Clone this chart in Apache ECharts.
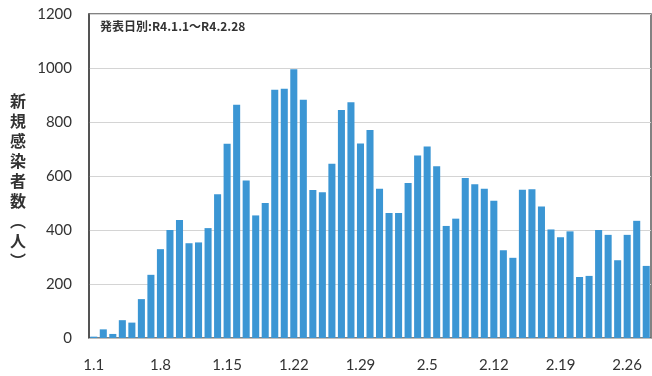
<!DOCTYPE html>
<html>
<head>
<meta charset="utf-8">
<script src="https://cdn.jsdelivr.net/npm/echarts@6/dist/echarts.min.js"></script>
<style>
  html, body { margin: 0; padding: 0; background: #fff; }
  #chart { width: 652px; height: 376px; }
</style>
</head>
<body>
<div id="chart"></div>
<script>
// Daily new infections by announcement date, R4.1.1 – R4.2.28
const janDays = Array.from({ length: 31 }, (_, i) => '1.' + (i + 1));
const febDays = Array.from({ length: 28 }, (_, i) => '2.' + (i + 1));
const dates = janDays.concat(febDays);

const newCases = [
  5, 32, 15, 66, 57, 144, 234, 329, 400, 437,
  351, 354, 407, 532, 719, 864, 583, 454, 500, 919,
  923, 995, 882, 548, 540, 645, 844, 873, 720, 770,
  553,
  463, 463, 574, 676, 709, 636, 415, 442, 593, 569,
  553, 508, 325, 297, 549, 551, 487, 402, 373, 395,
  226, 230, 400, 382, 288, 382, 434, 267
];

const yTicks = { min: 0, max: 1200, step: 200 };
const yTitle = ['新', '規', '感', '染', '者', '数', '︵', '人', '︶'];
const periodNote = '発表日別:R4.1.1〜R4.2.28';

const chart = echarts.init(document.getElementById('chart'));
chart.setOption({
  animation: false,
  backgroundColor: '#ffffff',
  grid: {
    left: 89, right: 1, top: 14, bottom: 38,
    show: true, borderColor: '#5a5a5a', borderWidth: 1.5
  },
  xAxis: {
    type: 'category',
    data: dates,
    axisLine: { show: true, lineStyle: { color: '#bdbdbd', width: 1 } },
    axisTick: { show: false },
    axisLabel: {
      interval: 6, margin: 20, color: '#333', fontSize: 15,
      fontFamily: 'Lato, "Noto Sans", sans-serif'
    }
  },
  yAxis: {
    type: 'value',
    min: yTicks.min, max: yTicks.max, interval: yTicks.step,
    axisLine: { show: true, lineStyle: { color: '#444', width: 1.5 } },
    axisTick: { show: false },
    splitLine: { show: true, lineStyle: { color: '#d4d4d4', width: 1 } },
    axisLabel: {
      margin: 17, color: '#333', fontSize: 15,
      fontFamily: 'Lato, "Noto Sans", sans-serif',
      formatter: v => String(v)
    }
  },
  series: [{
    type: 'bar',
    data: newCases,
    barCategoryGap: '26%',
    itemStyle: { color: '#3b96d4' }
  }],
  graphic: [
    {
      type: 'text', left: 100, top: 20,
      style: {
        text: periodNote, fill: '#333', fontSize: 12, fontWeight: 'bold',
        fontFamily: '"Noto Sans CJK JP", sans-serif'
      }
    },
    {
      type: 'text', left: 10, top: 91,
      style: {
        text: yTitle.join('\n'), fill: '#333', fontSize: 16, lineHeight: 20,
        fontWeight: 'bold', align: 'left',
        fontFamily: '"Noto Sans CJK JP", sans-serif'
      }
    }
  ]
});
</script>
</body>
</html>
